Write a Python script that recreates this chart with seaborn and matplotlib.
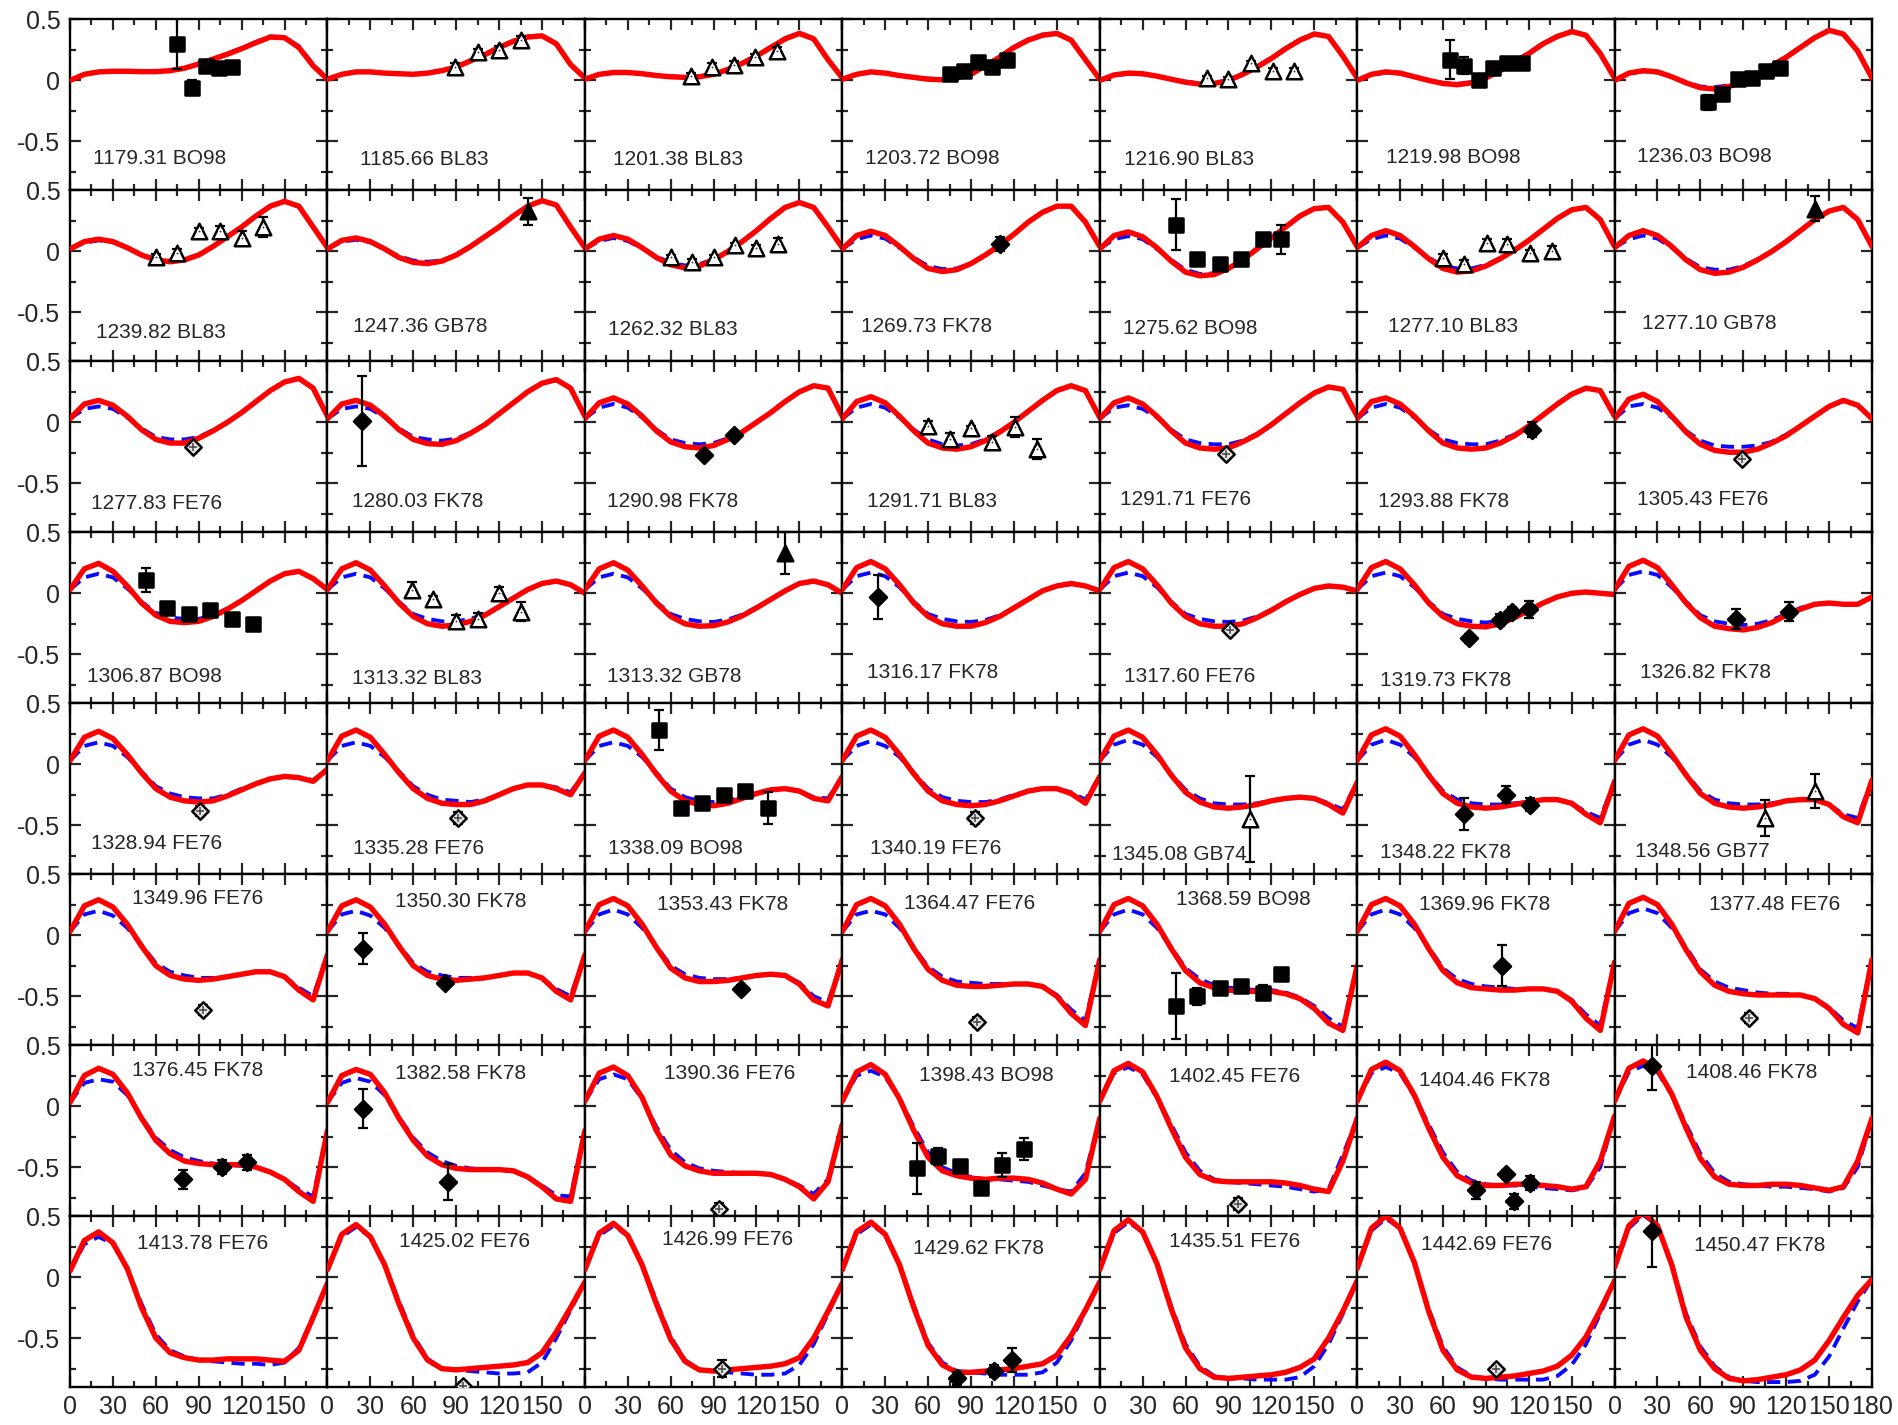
import matplotlib
matplotlib.use("Agg")
import matplotlib.pyplot as plt
import seaborn as sns
import pandas as pd

# scattering angle grid (deg) at which the fitted curves were read
angles = list(range(0, 181, 10))

panel_labels = [
    "1179.31 BO98", "1185.66 BL83", "1201.38 BL83", "1203.72 BO98", "1216.90 BL83", "1219.98 BO98", "1236.03 BO98",
    "1239.82 BL83", "1247.36 GB78", "1262.32 BL83", "1269.73 FK78", "1275.62 BO98", "1277.10 BL83", "1277.10 GB78",
    "1277.83 FE76", "1280.03 FK78", "1290.98 FK78", "1291.71 BL83", "1291.71 FE76", "1293.88 FK78", "1305.43 FE76",
    "1306.87 BO98", "1313.32 BL83", "1313.32 GB78", "1316.17 FK78", "1317.60 FE76", "1319.73 FK78", "1326.82 FK78",
    "1328.94 FE76", "1335.28 FE76", "1338.09 BO98", "1340.19 FE76", "1345.08 GB74", "1348.22 FK78", "1348.56 GB77",
    "1349.96 FE76", "1350.30 FK78", "1353.43 FK78", "1364.47 FE76", "1368.59 BO98", "1369.96 FK78", "1377.48 FE76",
    "1376.45 FK78", "1382.58 FK78", "1390.36 FE76", "1398.43 BO98", "1402.45 FE76", "1404.46 FK78", "1408.46 FK78",
    "1413.78 FE76", "1425.02 FE76", "1426.99 FE76", "1429.62 FK78", "1435.51 FE76", "1442.69 FE76", "1450.47 FK78",
]

# solid red fit, one row per panel
red_fits = [
    [0.0, 0.05, 0.07, 0.075, 0.075, 0.072, 0.072, 0.08, 0.1, 0.135, 0.175, 0.215, 0.26, 0.31, 0.355, 0.35, 0.27, 0.12, 0.01],
    [0.01, 0.05, 0.07, 0.07, 0.06, 0.055, 0.05, 0.06, 0.08, 0.11, 0.16, 0.21, 0.27, 0.32, 0.355, 0.365, 0.3, 0.13, 0.02],
    [0.01, 0.05, 0.065, 0.065, 0.055, 0.04, 0.03, 0.025, 0.03, 0.05, 0.09, 0.14, 0.2, 0.27, 0.34, 0.385, 0.34, 0.17, 0.02],
    [0.01, 0.05, 0.07, 0.06, 0.04, 0.025, 0.01, 0.005, 0.02, 0.05, 0.12, 0.19, 0.27, 0.33, 0.37, 0.385, 0.33, 0.17, 0.01],
    [0.0, 0.045, 0.06, 0.055, 0.035, 0.01, -0.015, -0.03, -0.025, 0.0, 0.05, 0.11, 0.18, 0.26, 0.33, 0.38, 0.36, 0.2, 0.02],
    [0.0, 0.05, 0.07, 0.06, 0.03, 0.0, -0.025, -0.035, -0.02, 0.02, 0.08, 0.15, 0.22, 0.3, 0.36, 0.4, 0.37, 0.22, 0.02],
    [0.0, 0.06, 0.08, 0.07, 0.03, -0.02, -0.06, -0.07, -0.05, -0.01, 0.05, 0.12, 0.19, 0.27, 0.35, 0.41, 0.38, 0.24, 0.02],
    [0.02, 0.08, 0.1, 0.08, 0.03, -0.03, -0.07, -0.085, -0.07, -0.03, 0.04, 0.12, 0.2, 0.29, 0.37, 0.41, 0.37, 0.2, 0.03],
    [0.02, 0.09, 0.11, 0.08, 0.02, -0.05, -0.09, -0.1, -0.08, -0.03, 0.04, 0.12, 0.2, 0.29, 0.37, 0.415, 0.38, 0.2, 0.03],
    [0.02, 0.1, 0.13, 0.1, 0.03, -0.05, -0.11, -0.135, -0.12, -0.07, 0.0, 0.08, 0.17, 0.27, 0.36, 0.4, 0.36, 0.2, 0.03],
    [0.02, 0.13, 0.165, 0.13, 0.04, -0.06, -0.14, -0.165, -0.15, -0.1, -0.03, 0.05, 0.14, 0.24, 0.32, 0.37, 0.37, 0.24, 0.04],
    [0.02, 0.13, 0.16, 0.12, 0.03, -0.08, -0.17, -0.2, -0.19, -0.14, -0.07, 0.02, 0.11, 0.2, 0.29, 0.35, 0.36, 0.24, 0.04],
    [0.03, 0.13, 0.17, 0.13, 0.04, -0.06, -0.14, -0.17, -0.16, -0.12, -0.06, 0.01, 0.09, 0.18, 0.27, 0.34, 0.36, 0.26, 0.04],
    [0.03, 0.13, 0.17, 0.13, 0.04, -0.07, -0.15, -0.18, -0.17, -0.13, -0.07, 0.0, 0.08, 0.17, 0.26, 0.33, 0.36, 0.26, 0.04],
    [0.03, 0.15, 0.18, 0.14, 0.05, -0.06, -0.14, -0.17, -0.17, -0.13, -0.07, 0.0, 0.08, 0.17, 0.26, 0.33, 0.36, 0.28, 0.05],
    [0.03, 0.15, 0.18, 0.14, 0.05, -0.06, -0.14, -0.175, -0.18, -0.15, -0.09, -0.02, 0.07, 0.16, 0.25, 0.32, 0.35, 0.28, 0.05],
    [0.03, 0.16, 0.2, 0.15, 0.05, -0.07, -0.16, -0.2, -0.21, -0.19, -0.14, -0.08, 0.0, 0.08, 0.17, 0.25, 0.3, 0.28, 0.05],
    [0.03, 0.17, 0.21, 0.16, 0.05, -0.07, -0.17, -0.21, -0.22, -0.2, -0.15, -0.08, 0.0, 0.09, 0.18, 0.26, 0.3, 0.26, 0.04],
    [0.03, 0.16, 0.2, 0.15, 0.05, -0.07, -0.17, -0.21, -0.22, -0.21, -0.16, -0.1, -0.02, 0.07, 0.16, 0.24, 0.29, 0.27, 0.05],
    [0.03, 0.17, 0.2, 0.15, 0.05, -0.07, -0.17, -0.21, -0.22, -0.21, -0.17, -0.11, -0.03, 0.06, 0.15, 0.23, 0.28, 0.26, 0.05],
    [0.03, 0.19, 0.23, 0.17, 0.05, -0.08, -0.18, -0.23, -0.245, -0.245, -0.22, -0.17, -0.11, -0.03, 0.05, 0.13, 0.18, 0.14, 0.03],
    [0.03, 0.2, 0.245, 0.18, 0.06, -0.08, -0.18, -0.23, -0.24, -0.23, -0.19, -0.13, -0.06, 0.02, 0.1, 0.16, 0.18, 0.12, 0.03],
    [0.03, 0.2, 0.25, 0.19, 0.06, -0.08, -0.19, -0.25, -0.27, -0.26, -0.23, -0.18, -0.11, -0.04, 0.03, 0.08, 0.1, 0.07, 0.0],
    [0.03, 0.2, 0.25, 0.19, 0.06, -0.08, -0.19, -0.25, -0.27, -0.265, -0.235, -0.185, -0.12, -0.05, 0.02, 0.08, 0.1, 0.07, 0.0],
    [0.03, 0.21, 0.26, 0.2, 0.07, -0.08, -0.19, -0.25, -0.27, -0.27, -0.24, -0.19, -0.12, -0.05, 0.02, 0.06, 0.08, 0.06, 0.02],
    [0.03, 0.21, 0.26, 0.2, 0.07, -0.08, -0.19, -0.25, -0.27, -0.27, -0.25, -0.2, -0.14, -0.07, -0.01, 0.04, 0.06, 0.05, 0.02],
    [0.03, 0.21, 0.26, 0.2, 0.07, -0.08, -0.19, -0.25, -0.27, -0.275, -0.25, -0.2, -0.14, -0.08, -0.03, 0.0, 0.01, 0.0, -0.01],
    [0.03, 0.22, 0.27, 0.21, 0.07, -0.08, -0.2, -0.27, -0.29, -0.3, -0.28, -0.24, -0.18, -0.13, -0.09, -0.08, -0.09, -0.09, -0.03],
    [0.03, 0.22, 0.27, 0.21, 0.08, -0.07, -0.2, -0.27, -0.3, -0.31, -0.3, -0.26, -0.21, -0.16, -0.12, -0.1, -0.11, -0.14, -0.04],
    [0.03, 0.23, 0.28, 0.22, 0.08, -0.07, -0.2, -0.28, -0.32, -0.33, -0.33, -0.3, -0.25, -0.2, -0.17, -0.17, -0.2, -0.25, -0.07],
    [0.03, 0.23, 0.28, 0.22, 0.08, -0.08, -0.22, -0.3, -0.33, -0.34, -0.32, -0.28, -0.24, -0.21, -0.2, -0.22, -0.28, -0.3, -0.1],
    [0.03, 0.23, 0.28, 0.22, 0.08, -0.08, -0.22, -0.3, -0.33, -0.34, -0.33, -0.3, -0.26, -0.22, -0.2, -0.2, -0.24, -0.32, -0.1],
    [0.03, 0.23, 0.28, 0.22, 0.08, -0.09, -0.23, -0.31, -0.35, -0.36, -0.35, -0.33, -0.3, -0.28, -0.27, -0.28, -0.33, -0.4, -0.15],
    [0.03, 0.24, 0.29, 0.23, 0.08, -0.09, -0.24, -0.32, -0.35, -0.36, -0.35, -0.33, -0.31, -0.29, -0.29, -0.32, -0.41, -0.48, -0.14],
    [0.03, 0.24, 0.29, 0.23, 0.08, -0.09, -0.24, -0.32, -0.35, -0.36, -0.35, -0.33, -0.3, -0.29, -0.29, -0.33, -0.43, -0.48, -0.13],
    [0.03, 0.24, 0.29, 0.23, 0.09, -0.09, -0.25, -0.33, -0.36, -0.37, -0.36, -0.34, -0.32, -0.3, -0.3, -0.34, -0.45, -0.53, -0.16],
    [0.03, 0.24, 0.29, 0.23, 0.09, -0.09, -0.25, -0.33, -0.36, -0.37, -0.36, -0.35, -0.33, -0.31, -0.31, -0.35, -0.46, -0.53, -0.16],
    [0.03, 0.25, 0.3, 0.24, 0.09, -0.1, -0.27, -0.35, -0.38, -0.38, -0.37, -0.35, -0.33, -0.32, -0.33, -0.4, -0.53, -0.58, -0.2],
    [0.03, 0.25, 0.3, 0.24, 0.09, -0.11, -0.28, -0.37, -0.41, -0.42, -0.42, -0.41, -0.4, -0.4, -0.42, -0.5, -0.64, -0.74, -0.2],
    [0.03, 0.25, 0.3, 0.24, 0.09, -0.11, -0.29, -0.39, -0.43, -0.45, -0.46, -0.46, -0.46, -0.48, -0.52, -0.6, -0.72, -0.78, -0.25],
    [0.03, 0.25, 0.3, 0.24, 0.09, -0.11, -0.29, -0.39, -0.43, -0.44, -0.45, -0.45, -0.44, -0.44, -0.46, -0.54, -0.68, -0.78, -0.22],
    [0.03, 0.26, 0.31, 0.25, 0.09, -0.12, -0.3, -0.41, -0.46, -0.48, -0.49, -0.49, -0.49, -0.49, -0.52, -0.6, -0.73, -0.8, -0.2],
    [0.03, 0.25, 0.31, 0.26, 0.11, -0.1, -0.28, -0.39, -0.45, -0.47, -0.48, -0.48, -0.48, -0.5, -0.54, -0.6, -0.7, -0.78, -0.2],
    [0.03, 0.25, 0.3, 0.26, 0.11, -0.1, -0.28, -0.41, -0.48, -0.51, -0.52, -0.52, -0.52, -0.53, -0.58, -0.66, -0.76, -0.78, -0.2],
    [0.04, 0.27, 0.32, 0.25, 0.07, -0.2, -0.4, -0.49, -0.53, -0.55, -0.55, -0.55, -0.55, -0.56, -0.6, -0.66, -0.76, -0.62, -0.15],
    [0.04, 0.28, 0.34, 0.26, 0.06, -0.2, -0.42, -0.53, -0.57, -0.59, -0.6, -0.59, -0.59, -0.6, -0.63, -0.68, -0.72, -0.6, -0.1],
    [0.04, 0.29, 0.35, 0.28, 0.08, -0.18, -0.42, -0.56, -0.61, -0.62, -0.62, -0.62, -0.62, -0.63, -0.65, -0.68, -0.7, -0.45, -0.1],
    [0.04, 0.3, 0.36, 0.29, 0.09, -0.18, -0.42, -0.57, -0.63, -0.65, -0.65, -0.64, -0.64, -0.65, -0.66, -0.68, -0.66, -0.45, -0.08],
    [0.04, 0.31, 0.37, 0.3, 0.1, -0.18, -0.43, -0.58, -0.64, -0.65, -0.65, -0.64, -0.64, -0.65, -0.67, -0.69, -0.66, -0.45, -0.1],
    [0.05, 0.3, 0.37, 0.28, 0.07, -0.25, -0.5, -0.62, -0.66, -0.68, -0.68, -0.67, -0.67, -0.67, -0.68, -0.69, -0.6, -0.33, -0.05],
    [0.06, 0.35, 0.43, 0.33, 0.1, -0.22, -0.5, -0.68, -0.75, -0.76, -0.75, -0.74, -0.73, -0.72, -0.7, -0.62, -0.45, -0.25, -0.04],
    [0.06, 0.36, 0.44, 0.34, 0.1, -0.22, -0.51, -0.69, -0.76, -0.77, -0.76, -0.75, -0.74, -0.73, -0.71, -0.66, -0.5, -0.28, -0.05],
    [0.06, 0.37, 0.45, 0.35, 0.1, -0.25, -0.56, -0.72, -0.78, -0.78, -0.77, -0.76, -0.75, -0.73, -0.71, -0.64, -0.48, -0.27, -0.04],
    [0.06, 0.38, 0.47, 0.37, 0.11, -0.26, -0.58, -0.75, -0.82, -0.83, -0.82, -0.81, -0.8, -0.78, -0.74, -0.67, -0.5, -0.28, -0.03],
    [0.07, 0.4, 0.5, 0.4, 0.12, -0.28, -0.6, -0.76, -0.82, -0.83, -0.82, -0.81, -0.79, -0.77, -0.73, -0.64, -0.49, -0.27, -0.03],
    [0.08, 0.42, 0.53, 0.42, 0.1, -0.33, -0.6, -0.75, -0.83, -0.85, -0.84, -0.82, -0.8, -0.76, -0.68, -0.52, -0.33, -0.15, -0.02],
]

# dashed blue fit, one row per panel
blue_fits = [
    [0.0, 0.05, 0.07, 0.075, 0.075, 0.073, 0.073, 0.08, 0.1, 0.135, 0.175, 0.22, 0.265, 0.315, 0.36, 0.355, 0.28, 0.13, 0.01],
    [0.01, 0.05, 0.07, 0.07, 0.062, 0.057, 0.053, 0.062, 0.083, 0.115, 0.165, 0.215, 0.275, 0.325, 0.36, 0.37, 0.3, 0.13, 0.02],
    [0.01, 0.05, 0.065, 0.065, 0.056, 0.042, 0.033, 0.028, 0.035, 0.055, 0.095, 0.145, 0.205, 0.275, 0.345, 0.39, 0.345, 0.17, 0.02],
    [0.01, 0.05, 0.07, 0.06, 0.042, 0.028, 0.015, 0.01, 0.025, 0.055, 0.125, 0.195, 0.275, 0.335, 0.375, 0.39, 0.335, 0.17, 0.01],
    [0.0, 0.04, 0.055, 0.05, 0.035, 0.012, -0.01, -0.022, -0.018, 0.005, 0.055, 0.115, 0.185, 0.265, 0.335, 0.385, 0.36, 0.2, 0.02],
    [0.0, 0.045, 0.065, 0.055, 0.03, 0.002, -0.02, -0.028, -0.014, 0.025, 0.085, 0.155, 0.225, 0.305, 0.365, 0.405, 0.37, 0.22, 0.02],
    [0.0, 0.055, 0.075, 0.065, 0.03, -0.015, -0.05, -0.055, -0.04, 0.0, 0.055, 0.125, 0.195, 0.275, 0.355, 0.41, 0.38, 0.24, 0.02],
    [0.02, 0.07, 0.09, 0.075, 0.03, -0.025, -0.06, -0.075, -0.065, -0.025, 0.04, 0.12, 0.2, 0.29, 0.37, 0.41, 0.37, 0.2, 0.03],
    [0.02, 0.08, 0.095, 0.075, 0.02, -0.04, -0.075, -0.085, -0.075, -0.03, 0.04, 0.12, 0.2, 0.29, 0.37, 0.415, 0.38, 0.2, 0.03],
    [0.02, 0.085, 0.11, 0.085, 0.025, -0.04, -0.095, -0.115, -0.105, -0.065, 0.0, 0.08, 0.17, 0.27, 0.36, 0.4, 0.36, 0.2, 0.03],
    [0.02, 0.1, 0.13, 0.105, 0.03, -0.05, -0.12, -0.145, -0.14, -0.1, -0.03, 0.05, 0.14, 0.24, 0.32, 0.37, 0.37, 0.24, 0.04],
    [0.02, 0.1, 0.125, 0.1, 0.02, -0.07, -0.15, -0.185, -0.18, -0.135, -0.07, 0.02, 0.11, 0.2, 0.29, 0.35, 0.36, 0.24, 0.04],
    [0.03, 0.1, 0.13, 0.105, 0.03, -0.05, -0.12, -0.14, -0.14, -0.11, -0.055, 0.01, 0.09, 0.18, 0.27, 0.34, 0.36, 0.26, 0.04],
    [0.03, 0.1, 0.13, 0.105, 0.03, -0.06, -0.13, -0.15, -0.15, -0.12, -0.065, 0.0, 0.08, 0.17, 0.26, 0.33, 0.36, 0.26, 0.04],
    [0.03, 0.11, 0.13, 0.11, 0.04, -0.05, -0.12, -0.14, -0.14, -0.12, -0.065, 0.0, 0.08, 0.17, 0.26, 0.33, 0.355, 0.28, 0.05],
    [0.03, 0.11, 0.13, 0.11, 0.04, -0.05, -0.12, -0.14, -0.15, -0.135, -0.085, -0.02, 0.07, 0.16, 0.25, 0.32, 0.345, 0.28, 0.05],
    [0.03, 0.12, 0.15, 0.12, 0.04, -0.06, -0.14, -0.17, -0.18, -0.17, -0.13, -0.075, 0.0, 0.08, 0.17, 0.25, 0.295, 0.28, 0.05],
    [0.03, 0.12, 0.15, 0.12, 0.04, -0.06, -0.14, -0.18, -0.19, -0.18, -0.14, -0.075, 0.0, 0.09, 0.18, 0.26, 0.295, 0.26, 0.04],
    [0.03, 0.12, 0.14, 0.11, 0.04, -0.06, -0.14, -0.17, -0.18, -0.18, -0.15, -0.095, -0.02, 0.07, 0.16, 0.24, 0.285, 0.27, 0.05],
    [0.03, 0.12, 0.15, 0.12, 0.04, -0.06, -0.14, -0.17, -0.18, -0.18, -0.15, -0.1, -0.03, 0.06, 0.15, 0.23, 0.275, 0.26, 0.05],
    [0.03, 0.13, 0.15, 0.12, 0.04, -0.07, -0.15, -0.19, -0.2, -0.2, -0.19, -0.16, -0.1, -0.03, 0.05, 0.13, 0.175, 0.14, 0.03],
    [0.03, 0.13, 0.16, 0.13, 0.04, -0.07, -0.16, -0.2, -0.21, -0.21, -0.18, -0.125, -0.06, 0.02, 0.1, 0.16, 0.175, 0.12, 0.03],
    [0.03, 0.13, 0.16, 0.13, 0.04, -0.07, -0.17, -0.21, -0.23, -0.23, -0.21, -0.17, -0.11, -0.04, 0.03, 0.08, 0.095, 0.07, 0.0],
    [0.03, 0.13, 0.16, 0.13, 0.04, -0.07, -0.17, -0.21, -0.23, -0.235, -0.215, -0.175, -0.115, -0.05, 0.02, 0.08, 0.095, 0.07, 0.0],
    [0.03, 0.14, 0.17, 0.14, 0.05, -0.07, -0.17, -0.21, -0.23, -0.235, -0.22, -0.18, -0.12, -0.05, 0.02, 0.06, 0.075, 0.06, 0.02],
    [0.03, 0.14, 0.17, 0.14, 0.05, -0.07, -0.17, -0.21, -0.23, -0.235, -0.225, -0.19, -0.135, -0.07, -0.01, 0.04, 0.055, 0.05, 0.02],
    [0.03, 0.14, 0.17, 0.14, 0.05, -0.07, -0.17, -0.21, -0.23, -0.24, -0.225, -0.19, -0.135, -0.08, -0.03, 0.0, 0.01, 0.0, -0.01],
    [0.03, 0.15, 0.18, 0.15, 0.05, -0.07, -0.18, -0.23, -0.25, -0.26, -0.25, -0.22, -0.17, -0.12, -0.09, -0.08, -0.09, -0.09, -0.03],
    [0.03, 0.15, 0.18, 0.15, 0.06, -0.06, -0.18, -0.24, -0.27, -0.28, -0.28, -0.25, -0.2, -0.16, -0.12, -0.1, -0.11, -0.13, -0.04],
    [0.03, 0.15, 0.18, 0.15, 0.06, -0.06, -0.18, -0.25, -0.29, -0.3, -0.31, -0.29, -0.25, -0.2, -0.17, -0.17, -0.19, -0.23, -0.07],
    [0.03, 0.15, 0.18, 0.15, 0.06, -0.07, -0.2, -0.27, -0.3, -0.31, -0.3, -0.27, -0.23, -0.21, -0.2, -0.22, -0.27, -0.28, -0.1],
    [0.03, 0.15, 0.19, 0.15, 0.06, -0.07, -0.2, -0.27, -0.3, -0.31, -0.31, -0.29, -0.25, -0.22, -0.2, -0.2, -0.23, -0.29, -0.1],
    [0.03, 0.16, 0.2, 0.16, 0.06, -0.08, -0.21, -0.28, -0.32, -0.33, -0.33, -0.32, -0.3, -0.28, -0.27, -0.28, -0.32, -0.37, -0.15],
    [0.03, 0.16, 0.2, 0.16, 0.06, -0.08, -0.22, -0.29, -0.32, -0.33, -0.33, -0.32, -0.31, -0.29, -0.29, -0.32, -0.39, -0.44, -0.14],
    [0.03, 0.16, 0.2, 0.16, 0.06, -0.08, -0.22, -0.29, -0.32, -0.33, -0.33, -0.32, -0.3, -0.29, -0.29, -0.33, -0.41, -0.44, -0.13],
    [0.03, 0.17, 0.2, 0.16, 0.06, -0.08, -0.23, -0.3, -0.33, -0.35, -0.35, -0.34, -0.32, -0.3, -0.3, -0.34, -0.43, -0.5, -0.16],
    [0.03, 0.17, 0.2, 0.16, 0.06, -0.08, -0.23, -0.3, -0.33, -0.35, -0.35, -0.35, -0.33, -0.31, -0.31, -0.35, -0.44, -0.5, -0.16],
    [0.03, 0.17, 0.21, 0.17, 0.06, -0.09, -0.25, -0.32, -0.35, -0.36, -0.36, -0.35, -0.33, -0.32, -0.33, -0.39, -0.5, -0.55, -0.2],
    [0.03, 0.17, 0.2, 0.17, 0.06, -0.1, -0.26, -0.34, -0.38, -0.39, -0.4, -0.4, -0.4, -0.4, -0.42, -0.49, -0.61, -0.7, -0.2],
    [0.03, 0.17, 0.21, 0.17, 0.06, -0.1, -0.27, -0.36, -0.41, -0.43, -0.44, -0.45, -0.45, -0.47, -0.51, -0.58, -0.68, -0.75, -0.25],
    [0.03, 0.17, 0.21, 0.17, 0.06, -0.1, -0.27, -0.36, -0.4, -0.42, -0.43, -0.44, -0.44, -0.44, -0.46, -0.53, -0.65, -0.74, -0.22],
    [0.03, 0.18, 0.22, 0.18, 0.06, -0.1, -0.28, -0.38, -0.43, -0.45, -0.47, -0.48, -0.48, -0.49, -0.52, -0.59, -0.7, -0.76, -0.2],
    [0.03, 0.19, 0.22, 0.2, 0.09, -0.09, -0.26, -0.36, -0.42, -0.45, -0.47, -0.48, -0.49, -0.5, -0.54, -0.6, -0.68, -0.74, -0.2],
    [0.03, 0.19, 0.23, 0.2, 0.09, -0.09, -0.26, -0.38, -0.45, -0.49, -0.51, -0.52, -0.52, -0.53, -0.58, -0.65, -0.73, -0.74, -0.2],
    [0.04, 0.22, 0.26, 0.22, 0.06, -0.17, -0.36, -0.46, -0.51, -0.53, -0.54, -0.55, -0.55, -0.56, -0.6, -0.65, -0.72, -0.6, -0.15],
    [0.04, 0.25, 0.29, 0.24, 0.06, -0.17, -0.38, -0.5, -0.55, -0.58, -0.6, -0.6, -0.61, -0.62, -0.65, -0.68, -0.7, -0.55, -0.1],
    [0.04, 0.27, 0.32, 0.26, 0.07, -0.15, -0.38, -0.53, -0.6, -0.62, -0.63, -0.64, -0.65, -0.66, -0.68, -0.7, -0.68, -0.4, -0.1],
    [0.04, 0.27, 0.32, 0.27, 0.08, -0.15, -0.38, -0.54, -0.61, -0.64, -0.65, -0.65, -0.66, -0.67, -0.68, -0.69, -0.67, -0.5, -0.08],
    [0.04, 0.28, 0.33, 0.28, 0.09, -0.15, -0.39, -0.55, -0.62, -0.64, -0.65, -0.66, -0.66, -0.67, -0.68, -0.7, -0.67, -0.5, -0.1],
    [0.05, 0.27, 0.33, 0.27, 0.07, -0.22, -0.47, -0.6, -0.65, -0.68, -0.69, -0.7, -0.71, -0.71, -0.72, -0.7, -0.58, -0.33, -0.05],
    [0.06, 0.33, 0.41, 0.33, 0.1, -0.2, -0.48, -0.67, -0.75, -0.76, -0.77, -0.78, -0.79, -0.79, -0.78, -0.7, -0.5, -0.27, -0.04],
    [0.06, 0.34, 0.42, 0.34, 0.1, -0.2, -0.49, -0.68, -0.76, -0.77, -0.78, -0.79, -0.8, -0.8, -0.79, -0.72, -0.55, -0.3, -0.05],
    [0.06, 0.35, 0.43, 0.35, 0.1, -0.23, -0.54, -0.7, -0.77, -0.78, -0.79, -0.8, -0.8, -0.8, -0.78, -0.7, -0.52, -0.28, -0.04],
    [0.06, 0.36, 0.45, 0.37, 0.11, -0.24, -0.55, -0.73, -0.81, -0.83, -0.83, -0.84, -0.84, -0.84, -0.82, -0.73, -0.55, -0.3, -0.03],
    [0.07, 0.38, 0.48, 0.4, 0.12, -0.26, -0.57, -0.74, -0.81, -0.83, -0.84, -0.84, -0.84, -0.84, -0.81, -0.72, -0.55, -0.3, -0.03],
    [0.08, 0.4, 0.51, 0.42, 0.1, -0.3, -0.57, -0.73, -0.82, -0.85, -0.86, -0.86, -0.86, -0.85, -0.8, -0.65, -0.42, -0.2, -0.02],
]

# measured points: (panel index, angle, value, error)
data_points = [
    (0, 75, 0.30, 0.21), (0, 85, -0.06, 0.06), (0, 95, 0.12, 0.03), (0, 104, 0.10, 0.02), (0, 113, 0.11, 0.02),
    (1, 89, 0.11, 0.03), (1, 105, 0.23, 0.03), (1, 120, 0.25, 0.03), (1, 135, 0.33, 0.03),
    (2, 74, 0.04, 0.02), (2, 89, 0.11, 0.03), (2, 104, 0.13, 0.03), (2, 119, 0.19, 0.03), (2, 134, 0.24, 0.03),
    (3, 75, 0.05, 0.03), (3, 85, 0.08, 0.02), (3, 95, 0.15, 0.02), (3, 105, 0.11, 0.02), (3, 115, 0.17, 0.02),
    (4, 75, 0.02, 0.02), (4, 90, 0.01, 0.02), (4, 106, 0.14, 0.02), (4, 121, 0.08, 0.02), (4, 136, 0.08, 0.02),
    (5, 65, 0.17, 0.16), (5, 75, 0.12, 0.07), (5, 85, 0.0, 0.03), (5, 95, 0.10, 0.02), (5, 105, 0.14, 0.02), (5, 115, 0.14, 0.02),
    (6, 65, -0.18, 0.06), (6, 75, -0.11, 0.03), (6, 86, 0.01, 0.02), (6, 96, 0.02, 0.02), (6, 106, 0.08, 0.02), (6, 116, 0.10, 0.02),
    (7, 60, -0.05, 0.03), (7, 75, -0.01, 0.03), (7, 90, 0.17, 0.02), (7, 105, 0.17, 0.04), (7, 120, 0.11, 0.06), (7, 135, 0.20, 0.08),
    (8, 140, 0.33, 0.11),
    (9, 60, -0.05, 0.02), (9, 75, -0.09, 0.03), (9, 90, -0.05, 0.02), (9, 105, 0.05, 0.02), (9, 120, 0.03, 0.02), (9, 135, 0.06, 0.05),
    (10, 110, 0.06, 0.06),
    (11, 53, 0.22, 0.21), (11, 68, -0.06, 0.03), (11, 84, -0.10, 0.02), (11, 99, -0.06, 0.02), (11, 114, 0.10, 0.02), (11, 127, 0.10, 0.12),
    (12, 60, -0.055, 0.03), (12, 75, -0.10, 0.03), (12, 91, 0.07, 0.03), (12, 105, 0.06, 0.04), (12, 121, -0.015, 0.03), (12, 136, 0.0, 0.04),
    (13, 140, 0.35, 0.10),
    (14, 86, -0.20, 0.03),
    (15, 24, 0.01, 0.37),
    (16, 83, -0.27, 0.03), (16, 104, -0.10, 0.02),
    (17, 60, -0.03, 0.04), (17, 75, -0.14, 0.05), (17, 90, -0.05, 0.02), (17, 105, -0.16, 0.05), (17, 121, -0.04, 0.08), (17, 136, -0.22, 0.08),
    (18, 88, -0.26, 0.03),
    (19, 122, -0.06, 0.06),
    (20, 89, -0.30, 0.03),
    (21, 53, 0.11, 0.10), (21, 68, -0.12, 0.03), (21, 83, -0.17, 0.02), (21, 98, -0.14, 0.03), (21, 113, -0.21, 0.03), (21, 128, -0.25, 0.05),
    (22, 59, 0.03, 0.06), (22, 74, -0.05, 0.03), (22, 90, -0.23, 0.05), (22, 105, -0.21, 0.05), (22, 120, 0.0, 0.05), (22, 135, -0.15, 0.08),
    (23, 140, 0.33, 0.17),
    (24, 25, -0.03, 0.18),
    (25, 91, -0.30, 0.03),
    (26, 78, -0.37, 0.04), (26, 100, -0.22, 0.05), (26, 108, -0.15, 0.04), (26, 120, -0.13, 0.07),
    (27, 85, -0.21, 0.08), (27, 122, -0.15, 0.08),
    (28, 91, -0.38, 0.04),
    (29, 91, -0.44, 0.05),
    (30, 52, 0.28, 0.16), (30, 67, -0.36, 0.03), (30, 82, -0.32, 0.03), (30, 97, -0.25, 0.03), (30, 112, -0.22, 0.03), (30, 128, -0.36, 0.13),
    (31, 93, -0.44, 0.05),
    (32, 105, -0.45, 0.35),
    (33, 75, -0.41, 0.13), (33, 104, -0.25, 0.07), (33, 121, -0.33, 0.05),
    (34, 105, -0.44, 0.15), (34, 140, -0.22, 0.14),
    (35, 93, -0.61, 0.04),
    (36, 25, -0.11, 0.13), (36, 82, -0.39, 0.03),
    (37, 109, -0.44, 0.03),
    (38, 94, -0.71, 0.04),
    (39, 53, -0.58, 0.27), (39, 68, -0.50, 0.07), (39, 84, -0.43, 0.03), (39, 99, -0.42, 0.03), (39, 114, -0.47, 0.06), (39, 127, -0.32, 0.05),
    (40, 101, -0.25, 0.17),
    (41, 94, -0.68, 0.04),
    (42, 79, -0.60, 0.08), (42, 106, -0.50, 0.06), (42, 124, -0.46, 0.06),
    (43, 25, -0.02, 0.16), (43, 84, -0.62, 0.15),
    (44, 94, -0.84, 0.05),
    (45, 52, -0.51, 0.21), (45, 67, -0.41, 0.07), (45, 82, -0.49, 0.03), (45, 97, -0.67, 0.03), (45, 112, -0.48, 0.10), (45, 127, -0.35, 0.09),
    (46, 97, -0.80, 0.05),
    (47, 83, -0.69, 0.07), (47, 104, -0.56, 0.04), (47, 110, -0.78, 0.06), (47, 121, -0.63, 0.06),
    (48, 26, 0.33, 0.20),
    (50, 95, -0.89, 0.03),
    (51, 96, -0.75, 0.07),
    (52, 80, -0.83, 0.05), (52, 106, -0.77, 0.05), (52, 119, -0.68, 0.10),
    (54, 97, -0.75, 0.02),
    (55, 26, 0.38, 0.30),
]

# where each panel caption sits (axes fraction, left edge / vertical centre)
label_xy = [
    (0.09, 0.185), (0.127, 0.18), (0.108, 0.18), (0.09, 0.185), (0.094, 0.18), (0.113, 0.19), (0.089, 0.198),
    (0.099, 0.17), (0.099, 0.205), (0.089, 0.184), (0.071, 0.205), (0.089, 0.19), (0.118, 0.205), (0.108, 0.22),
    (0.08, 0.17), (0.094, 0.177), (0.085, 0.177), (0.094, 0.177), (0.08, 0.19), (0.08, 0.177), (0.089, 0.19),
    (0.066, 0.156), (0.094, 0.142), (0.085, 0.156), (0.094, 0.177), (0.094, 0.156), (0.089, 0.135), (0.099, 0.177),
    (0.08, 0.177), (0.099, 0.149), (0.089, 0.149), (0.108, 0.149), (0.047, 0.113), (0.089, 0.127), (0.08, 0.135),
    (0.24, 0.857), (0.263, 0.842), (0.282, 0.821), (0.24, 0.828), (0.296, 0.85), (0.24, 0.821), (0.367, 0.821),
    (0.24, 0.85), (0.263, 0.835), (0.306, 0.835), (0.296, 0.82), (0.268, 0.814), (0.24, 0.793), (0.277, 0.842),
    (0.259, 0.842), (0.278, 0.85), (0.301, 0.864), (0.273, 0.807), (0.268, 0.85), (0.249, 0.835), (0.31, 0.828),
]

# marker look per data set
marker_style = {
    "BO98": dict(marker="s", s=100, face="black"),
    "BL83": dict(marker="^", s=125, face="white"),
    "GB78": dict(marker="^", s=125, face="black"),
    "GB74": dict(marker="^", s=125, face="white"),
    "GB77": dict(marker="^", s=125, face="white"),
    "FK78": dict(marker="D", s=75, face="black"),
    "FE76": dict(marker="D", s=70, face="#e6e6e6"),
}

sns.set_style("ticks")
plt.rcParams["font.family"] = ["Liberation Sans", "DejaVu Sans"]
plt.rcParams["axes.unicode_minus"] = False

pts = pd.DataFrame(data_points, columns=["panel", "theta", "value", "err"])

fig, axes = plt.subplots(8, 7, figsize=(18.98, 14.25), dpi=100)
fig.subplots_adjust(left=0.0369, right=0.9863, top=0.9864, bottom=0.0267, wspace=0, hspace=0)

for i, lab in enumerate(panel_labels):
    r, c = divmod(i, 7)
    ax = axes[r, c]

    sns.lineplot(x=angles, y=blue_fits[i], ax=ax, color="#0a0aff", lw=2.8,
                 linestyle=(0, (3.4, 1.9)), zorder=2)
    sns.lineplot(x=angles, y=red_fits[i], ax=ax, color="#ff0000", lw=3.9, zorder=3)

    sub = pts[pts["panel"] == i]
    if len(sub):
        st = marker_style[lab.split()[1]]
        ax.errorbar(sub["theta"], sub["value"], yerr=sub["err"], fmt="none", ecolor="black",
                    elinewidth=1.6, capsize=3.8, capthick=1.6, zorder=4)
        sns.scatterplot(x=sub["theta"], y=sub["value"], ax=ax, marker=st["marker"], s=st["s"],
                        color=st["face"], edgecolor="black", linewidth=1.8, zorder=5, legend=False)
        if st["face"] != "black":
            inner = "+" if st["marker"] == "D" else "."
            sns.scatterplot(x=sub["theta"], y=sub["value"], ax=ax, marker=inner, s=26,
                            color="#444444", linewidth=1.1, zorder=6, legend=False)

    ax.text(label_xy[i][0], label_xy[i][1], lab, transform=ax.transAxes,
            ha="left", va="center", fontsize=15)

    ax.set_xlim(0, 180)
    ax.set_ylim(-0.9, 0.5)
    ax.set_xlabel("")
    ax.set_ylabel("")
    ax.set_xticks(range(0, 181, 30))
    ax.set_xticks(range(15, 180, 30), minor=True)
    ax.set_yticks([-0.5, 0, 0.5])
    ax.set_yticks([-0.75, -0.25, 0.25], minor=True)
    ax.tick_params(which="both", direction="in", top=True, right=True, width=1.6, labelsize=18)
    ax.tick_params(which="major", length=8)
    ax.tick_params(which="minor", length=4.5)
    for sp in ax.spines.values():
        sp.set_linewidth(1.7)
        sp.set_color("black")

    if c == 0:
        ax.set_yticklabels(["-0.5", "0", "0.5"])
        ax.tick_params(axis="y", pad=7)
    else:
        ax.tick_params(labelleft=False)
    if r == 7:
        xl = ["0", "30", "60", "90", "120", "150", "180" if c == 6 else ""]
        ax.set_xticklabels(xl)
        ax.tick_params(axis="x", pad=6)
    else:
        ax.tick_params(labelbottom=False)

fig.savefig("out.png", dpi=100)
